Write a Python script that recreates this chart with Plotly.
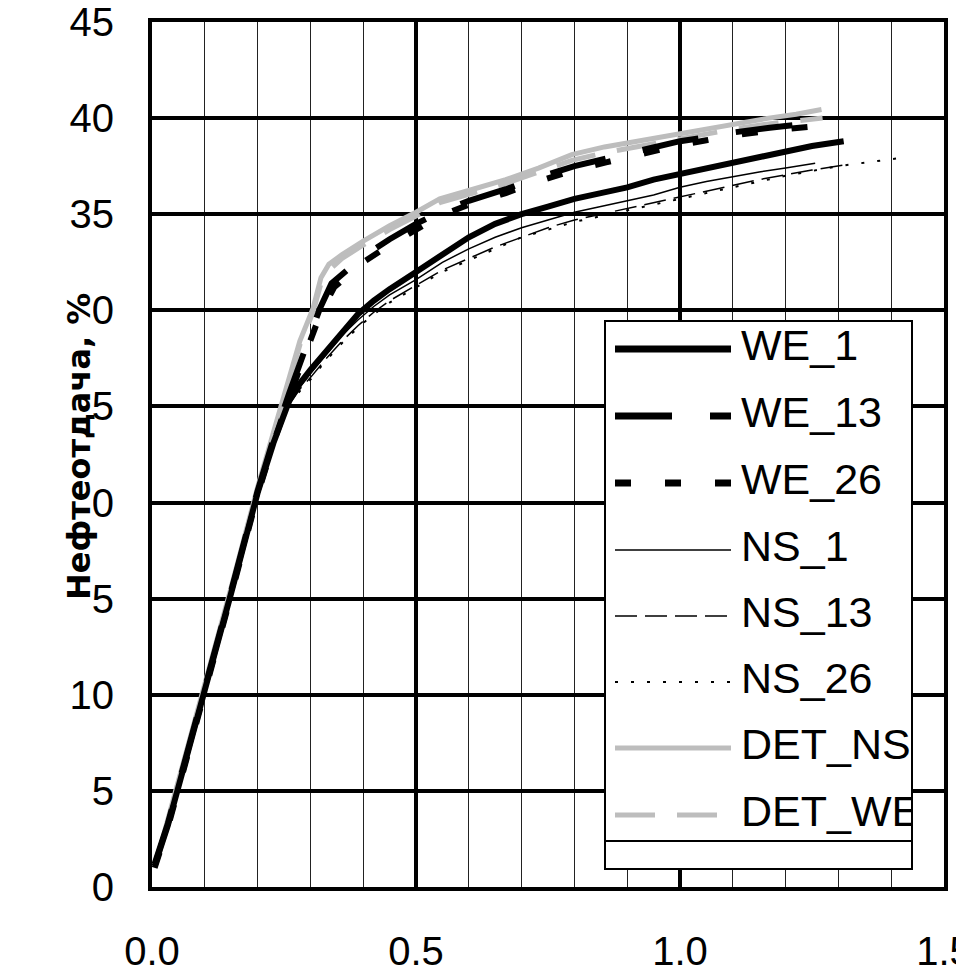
import plotly.graph_objects as go

# ---------------- data ----------------
we1_x = [0.005, 0.03, 0.05, 0.10, 0.15, 0.20, 0.23, 0.26, 0.28, 0.30, 0.33, 0.36, 0.39, 0.42, 0.45,
         0.50, 0.55, 0.60, 0.65, 0.70, 0.75, 0.80, 0.85, 0.90, 0.95, 1.00, 1.05, 1.10, 1.15, 1.20, 1.25, 1.31]
we1_y = [1.1, 3.2, 5.2, 10.2, 15.3, 20.5, 23.1, 25.3, 26.2, 26.9, 27.9, 28.9, 29.8, 30.5, 31.1,
         32.0, 32.9, 33.8, 34.5, 35.0, 35.4, 35.8, 36.1, 36.4, 36.8, 37.1, 37.4, 37.7, 38.0, 38.3, 38.55, 38.8]

we13_x = [0.005, 0.03, 0.05, 0.10, 0.15, 0.20, 0.23, 0.26, 0.29, 0.318, 0.34, 0.37, 0.40, 0.45, 0.50,
          0.545, 0.60, 0.67, 0.73, 0.80, 0.86, 0.92, 1.00, 1.05, 1.10, 1.17, 1.21, 1.256]
we13_y = [1.2, 3.3, 5.3, 10.3, 15.4, 20.6, 23.3, 25.7, 28.1, 30.1, 31.4, 32.1, 32.8, 33.7, 34.5,
          35.1, 35.7, 36.3, 36.9, 37.5, 37.9, 38.3, 38.8, 39.0, 39.25, 39.5, 39.6, 39.75]

we26_x = [0.005, 0.03, 0.05, 0.10, 0.15, 0.20, 0.23, 0.26, 0.29, 0.32, 0.345, 0.37, 0.40, 0.45, 0.50,
          0.545, 0.60, 0.67, 0.73, 0.80, 0.86, 0.92, 1.00, 1.05, 1.10, 1.17, 1.245]
we26_y = [1.0, 3.1, 5.1, 10.1, 15.2, 20.4, 23.1, 25.5, 27.8, 29.9, 31.2, 31.8, 32.5, 33.4, 34.2,
          34.9, 35.5, 36.1, 36.7, 37.3, 37.7, 38.1, 38.6, 38.85, 39.1, 39.35, 39.55]

ns1_x = [0.005, 0.03, 0.05, 0.10, 0.15, 0.20, 0.23, 0.26, 0.28, 0.30, 0.33, 0.36, 0.39, 0.42, 0.45,
         0.50, 0.55, 0.60, 0.65, 0.70, 0.75, 0.80, 0.85, 0.90, 0.95, 1.00, 1.05, 1.10, 1.15, 1.20, 1.256]
ns1_y = [1.1, 3.2, 5.2, 10.2, 15.3, 20.5, 23.1, 25.2, 26.0, 26.7, 27.7, 28.7, 29.5, 30.2, 30.8,
         31.6, 32.5, 33.2, 33.8, 34.3, 34.7, 35.1, 35.4, 35.7, 36.0, 36.4, 36.7, 36.95, 37.2, 37.4, 37.65]

ns13_x = [0.005, 0.03, 0.05, 0.10, 0.15, 0.20, 0.23, 0.26, 0.28, 0.30, 0.33, 0.36, 0.39, 0.42, 0.45,
          0.50, 0.55, 0.60, 0.65, 0.70, 0.75, 0.80, 0.85, 0.90, 0.95, 1.00, 1.05, 1.10, 1.15, 1.20, 1.25, 1.32]
ns13_y = [1.1, 3.2, 5.2, 10.2, 15.3, 20.5, 23.1, 25.1, 25.9, 26.5, 27.5, 28.4, 29.2, 29.9, 30.5,
          31.3, 32.1, 32.7, 33.3, 33.8, 34.3, 34.7, 35.0, 35.3, 35.6, 35.9, 36.2, 36.5, 36.8, 37.05, 37.3, 37.6]

ns26_x = [0.005, 0.03, 0.05, 0.10, 0.15, 0.20, 0.23, 0.26, 0.28, 0.30, 0.33, 0.36, 0.39, 0.42, 0.45,
          0.50, 0.55, 0.60, 0.65, 0.70, 0.75, 0.80, 0.85, 0.90, 0.95, 1.00, 1.10, 1.20, 1.30, 1.36, 1.41]
ns26_y = [1.1, 3.2, 5.2, 10.2, 15.3, 20.5, 23.1, 25.1, 25.8, 26.4, 27.4, 28.3, 29.1, 29.8, 30.4,
          31.2, 32.0, 32.6, 33.2, 33.8, 34.2, 34.6, 34.9, 35.2, 35.5, 35.8, 36.4, 37.0, 37.5, 37.7, 37.9]

detns_x = [0.01, 0.03, 0.05, 0.10, 0.15, 0.20, 0.25, 0.28, 0.305, 0.32, 0.335, 0.36, 0.40, 0.45, 0.50,
           0.545, 0.608, 0.67, 0.732, 0.795, 0.857, 0.919, 0.998, 1.05, 1.106, 1.168, 1.22, 1.268]
detns_y = [1.5, 3.5, 5.6, 10.6, 15.6, 20.8, 25.6, 28.4, 30.1, 31.7, 32.4, 32.9, 33.6, 34.4, 35.1,
           35.8, 36.3, 36.8, 37.4, 38.1, 38.5, 38.8, 39.2, 39.45, 39.7, 40.0, 40.2, 40.45]

detwe_x = [0.01, 0.03, 0.05, 0.10, 0.15, 0.20, 0.25, 0.28, 0.305, 0.32, 0.34, 0.36, 0.40, 0.45, 0.50,
           0.545, 0.608, 0.67, 0.732, 0.795, 0.857, 0.919, 0.998, 1.05, 1.106, 1.168, 1.22, 1.27]
detwe_y = [1.4, 3.4, 5.5, 10.5, 15.5, 20.7, 25.5, 28.2, 29.9, 31.4, 32.2, 32.7, 33.4, 34.2, 34.9,
           35.6, 36.1, 36.6, 37.2, 37.8, 38.2, 38.5, 38.9, 39.2, 39.45, 39.7, 39.85, 40.0]

series_names = ["WE_1", "WE_13", "WE_26", "NS_1", "NS_13", "NS_26", "DET_NS", "DET_WE"]
series_x = [we1_x, we13_x, we26_x, ns1_x, ns13_x, ns26_x, detns_x, detwe_x]
series_y = [we1_y, we13_y, we26_y, ns1_y, ns13_y, ns26_y, detns_y, detwe_y]

x_ticks = [0.0, 0.5, 1.0, 1.5]
y_ticks = [0, 5, 10, 15, 20, 25, 30, 35, 40, 45]
y_title = "Нефтеотдача, %"

# ---------------- styles ----------------
GRAY = "#bdbdbd"
styles = [
    dict(color="black", width=6, dash="solid"),
    dict(color="black", width=6, dash="57px,38px"),
    dict(color="black", width=6, dash="16px,34px"),
    dict(color="black", width=1.5, dash="solid"),
    dict(color="black", width=1.5, dash="22px,8px"),
    dict(color="black", width=2, dash="3px,13px"),
    dict(color=GRAY, width=5, dash="solid"),
    dict(color=GRAY, width=5, dash="40px,22px"),
]
draw_order = [6, 7, 0, 1, 2, 3, 4, 5]

FONT = "Liberation Sans, Arial, sans-serif"
W, H = 956, 973
L, R, T, B = 152, 12, 22, 86
PW, PH = W - L - R, H - T - B


def px_x(p):
    return (p - L) / PW


def px_y(p):
    return (H - B - p) / PH


fig = go.Figure()
for i in draw_order:
    fig.add_trace(go.Scatter(x=series_x[i], y=series_y[i], mode="lines", name=series_names[i],
                             line=styles[i], showlegend=False, hoverinfo="skip",
                             xaxis="x", yaxis="y"))

# ---------------- hand-built legend box (pixel coordinates inside an overlay subplot) ----------------
LX0, LX1, LY0, LY1 = 606, 911, 322, 868
row_y = [349, 416, 483, 550, 616, 682, 748, 815]
sample_x = [615, 731]
text_x = 741
sep_y = 841

for i in range(len(series_names)):
    st = dict(styles[i])
    if i in (0, 1, 2):
        st["width"] = 7
    fig.add_trace(go.Scatter(x=sample_x, y=[row_y[i], row_y[i]], mode="lines", line=st,
                             showlegend=False, hoverinfo="skip", xaxis="x2", yaxis="y2"))
fig.add_trace(go.Scatter(x=[text_x] * len(series_names), y=row_y, mode="text", text=series_names,
                         textposition="middle right", textfont=dict(family=FONT, size=43, color="black"),
                         cliponaxis=True, showlegend=False, hoverinfo="skip", xaxis="x2", yaxis="y2"))
fig.add_trace(go.Scatter(x=[LX0, LX1], y=[sep_y, sep_y], mode="lines", line=dict(color="black", width=2),
                         showlegend=False, hoverinfo="skip", xaxis="x2", yaxis="y2"))

fig.update_layout(
    width=W, height=H,
    margin=dict(l=L, r=R, t=T, b=B, pad=0, autoexpand=False),
    paper_bgcolor="white", plot_bgcolor="white",
    showlegend=False, hovermode=False,
    font=dict(family=FONT, color="black"),
    xaxis=dict(
        range=[0, 1.5], domain=[0, 1], tickmode="array", tickvals=x_ticks,
        ticktext=[f"{v:.1f}" for v in x_ticks],
        tickfont=dict(size=40, family=FONT, color="black"),
        ticks="outside", ticklen=0, ticklabelstandoff=26, ticklabeloverflow="allow",
        automargin=False,
        showgrid=True, gridcolor="black", gridwidth=3.5,
        minor=dict(dtick=0.1, tick0=0, showgrid=True, gridcolor="#222222", gridwidth=1.3),
        showline=True, mirror=True, linecolor="black", linewidth=4, zeroline=False,
    ),
    yaxis=dict(
        range=[0, 45], domain=[0, 1], tickmode="array", tickvals=y_ticks,
        tickfont=dict(size=40, family=FONT, color="black"),
        ticks="outside", ticklen=0, ticklabelstandoff=26, automargin=False,
        showgrid=True, gridcolor="black", gridwidth=4,
        showline=True, mirror=True, linecolor="black", linewidth=4, zeroline=False,
    ),
    xaxis2=dict(
        domain=[px_x(LX0), px_x(LX1)], range=[LX0, LX1], anchor="y2", automargin=False,
        showgrid=False, zeroline=False, showticklabels=False, ticks="",
        showline=True, mirror=True, linecolor="black", linewidth=2, fixedrange=True,
    ),
    yaxis2=dict(
        domain=[px_y(LY1), px_y(LY0)], range=[LY1, LY0], anchor="x2", automargin=False,
        showgrid=False, zeroline=False, showticklabels=False, ticks="",
        showline=True, mirror=True, linecolor="black", linewidth=2, fixedrange=True,
    ),
    # white box of the axis title (it sits over the first digits of some tick labels)
    shapes=[dict(type="rect", xref="paper", yref="paper", layer="above",
                 x0=px_x(62), x1=px_x(93), y0=px_y(645), y1=px_y(252),
                 fillcolor="white", line=dict(width=0))],
    annotations=[dict(
        text=y_title, textangle=-90, xref="paper", yref="paper",
        x=px_x(79), y=px_y(447), xanchor="center", yanchor="middle",
        showarrow=False,
        font=dict(family="DejaVu Sans, sans-serif", size=32, color="black", weight="bold"),
    )],
)

fig.write_html("out.html")
